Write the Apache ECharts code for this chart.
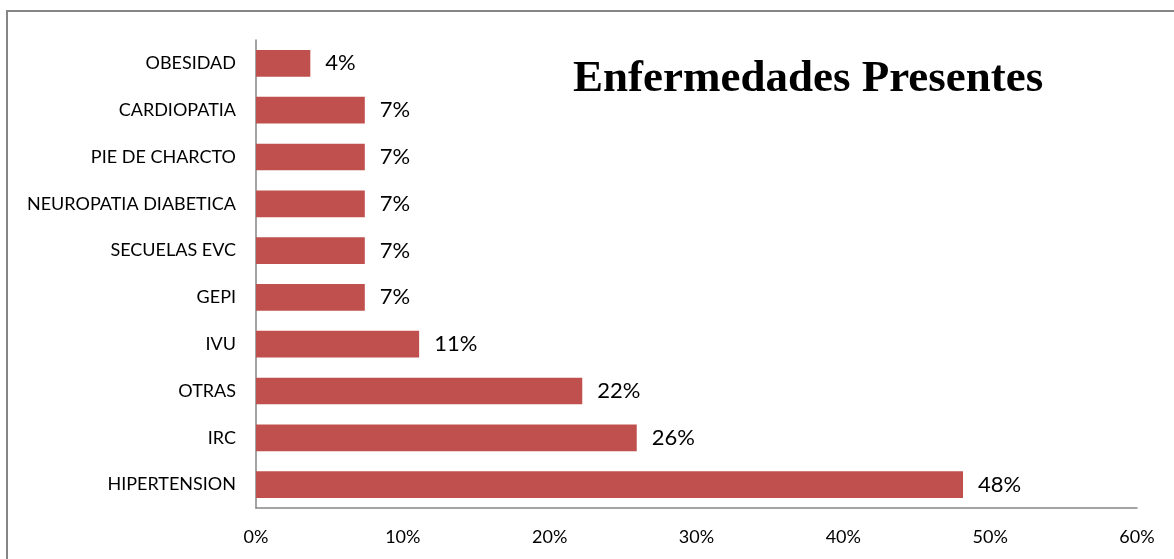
<!DOCTYPE html>
<html>
<head>
<meta charset="utf-8">
<script src="https://cdn.jsdelivr.net/npm/echarts@6/dist/echarts.min.js"></script>
<style>
html,body{margin:0;padding:0;background:#fff;}
#chart{width:1174px;height:559px;}
</style>
</head>
<body>
<div id="chart"></div>
<script>
const categories = ["OBESIDAD","CARDIOPATIA","PIE DE CHARCTO","NEUROPATIA DIABETICA","SECUELAS EVC","GEPI","IVU","OTRAS","IRC","HIPERTENSION"];
const values = [3.70, 7.41, 7.41, 7.41, 7.41, 7.41, 11.11, 22.22, 25.93, 48.15];
const titleText = "Enfermedades Presentes";

const chart = echarts.init(document.getElementById('chart'));
chart.setOption({
  animation: false,
  backgroundColor: '#fff',
  title: {
    text: titleText,
    left: 568, top: 52,
    textStyle: {fontFamily: 'Liberation Serif', fontWeight: 'bold', fontSize: 45, color: '#000'}
  },
  graphic: [{
    type: 'rect', silent: true,
    shape: {x: 7, y: 11, width: 1300, height: 700},
    style: {fill: 'none', stroke: '#868686', lineWidth: 2}
  }],
  grid: {left: 256, top: 40, right: 37, bottom: 51, containLabel: false},
  xAxis: {
    type: 'value', min: 0, max: 60, interval: 10,
    axisLine: {show: true, lineStyle: {color: '#868686', width: 1.5}},
    axisTick: {show: false},
    splitLine: {show: false},
    axisLabel: {formatter: '{value}%', fontFamily: 'Lato', fontSize: 18, color: '#000', margin: 20}
  },
  yAxis: {
    type: 'category', data: categories, inverse: true,
    axisLine: {show: true, lineStyle: {color: '#868686', width: 1.5}},
    axisTick: {show: false},
    axisLabel: {fontFamily: 'Lato', fontSize: 18, color: '#000', margin: 20}
  },
  series: [{
    type: 'bar', data: values, barWidth: '57%',
    itemStyle: {color: '#C0504D'},
    label: {
      show: true, position: 'right', distance: 15,
      formatter: p => Math.round(p.value) + '%',
      fontFamily: 'Lato', fontSize: 22, color: '#000'
    }
  }]
});
</script>
</body>
</html>
